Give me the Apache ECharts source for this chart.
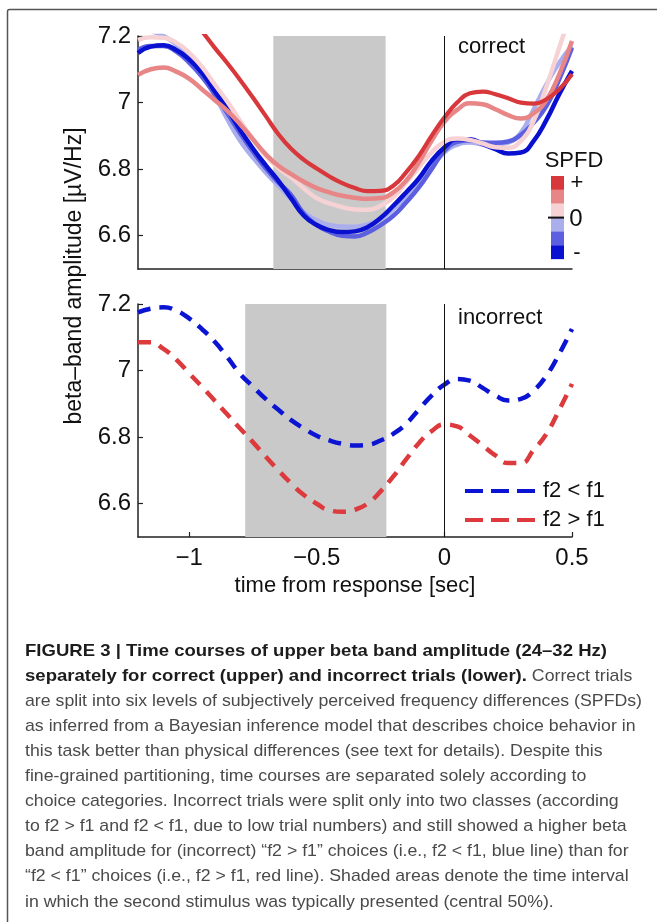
<!DOCTYPE html>
<html><head><meta charset="utf-8">
<script src="https://cdn.jsdelivr.net/npm/echarts@6.0.0/dist/echarts.min.js"></script>
<style>html,body{margin:0;padding:0;background:#fff}#c{width:657px;height:922px}</style>
</head><body><div id="c"></div><script>
// ---- data ----
const times = [-1.20,-1.15,-1.10,-1.05,-1.00,-0.95,-0.90,-0.85,-0.80,-0.75,-0.70,-0.65,-0.60,-0.55,-0.50,-0.45,-0.40,-0.35,-0.30,-0.25,-0.20,-0.15,-0.10,-0.05,0.00,0.05,0.10,0.15,0.20,0.25,0.30,0.35,0.40,0.45,0.50];
const spfdPlus3 = [null,null,null,null,7.265,7.215,7.165,7.118,7.068,7.015,6.96,6.905,6.861,6.828,6.802,6.778,6.758,6.743,6.734,6.735,6.75,6.79,6.84,6.9,6.955,7.0,7.028,7.033,7.025,7.013,7.0,6.997,7.01,7.04,7.085];
const spfdPlus2 = [7.083,7.100,7.105,7.093,7.072,7.040,7.008,6.975,6.935,6.89,6.845,6.81,6.785,6.762,6.743,6.730,6.720,6.714,6.711,6.713,6.73,6.765,6.82,6.885,6.942,6.978,6.998,6.995,6.98,6.962,6.952,6.968,7.008,7.085,7.185];
const spfdPlus1 = [7.188,7.196,7.195,7.18,7.15,7.108,7.055,7.003,6.945,6.89,6.84,6.803,6.775,6.742,6.713,6.697,6.686,6.679,6.678,6.69,6.715,6.76,6.805,6.85,6.882,6.892,6.888,6.877,6.866,6.864,6.885,6.945,7.048,7.165,7.28];
const spfdMinus1 = [7.225,7.215,7.2,7.175,7.14,7.09,7.025,6.95,6.885,6.835,6.79,6.75,6.71,6.67,6.647,6.632,6.628,6.627,6.634,6.65,6.68,6.715,6.755,6.805,6.85,6.873,6.880,6.875,6.874,6.88,6.91,6.98,7.055,7.12,7.17];
const spfdMinus2 = [7.158,7.17,7.17,7.153,7.12,7.078,7.025,6.968,6.908,6.853,6.803,6.76,6.722,6.665,6.632,6.612,6.6,6.598,6.61,6.632,6.66,6.7,6.745,6.8,6.855,6.882,6.887,6.880,6.879,6.883,6.903,6.94,6.99,7.07,7.165];
const spfdMinus3 = [7.149,7.168,7.172,7.158,7.13,7.09,7.035,6.98,6.918,6.862,6.812,6.765,6.712,6.66,6.632,6.617,6.611,6.613,6.626,6.653,6.69,6.73,6.772,6.825,6.865,6.89,6.89,6.875,6.86,6.847,6.85,6.885,6.948,7.025,7.095];
const incorrectF2LessF1 = [7.175,7.186,7.19,7.18,7.157,7.125,7.087,7.04,6.99,6.952,6.915,6.882,6.851,6.826,6.804,6.79,6.78,6.775,6.777,6.79,6.81,6.84,6.883,6.925,6.958,6.975,6.97,6.948,6.925,6.91,6.915,6.94,6.985,7.05,7.125];
const incorrectF2GreaterF1 = [7.085,7.085,7.065,7.033,6.992,6.952,6.91,6.868,6.826,6.785,6.742,6.7,6.661,6.626,6.6,6.58,6.576,6.582,6.601,6.637,6.682,6.733,6.782,6.818,6.838,6.832,6.805,6.775,6.745,6.722,6.722,6.762,6.81,6.882,6.96];
const xTicks = [-1, -0.5, 0, 0.5];
const yTicks = [6.6, 6.8, 7.0, 7.2];
const stimBandCorrect = [-0.67, -0.23];
const stimBandIncorrect = [-0.78, -0.227];
const seriesNames = ['f2 < f1', 'f2 > f1'];
const captionBold1 = 'FIGURE 3 | Time courses of upper beta band amplitude (24–32 Hz)';
const captionBold2 = 'separately for correct (upper) and incorrect trials (lower).';
const captionLines = [
  ' Correct trials',
  'are split into six levels of subjectively perceived frequency differences (SPFDs)',
  'as inferred from a Bayesian inference model that describes choice behavior in',
  'this task better than physical differences (see text for details). Despite this',
  'fine-grained partitioning, time courses are separated solely according to',
  'choice categories. Incorrect trials were split only into two classes (according',
  'to f2 > f1 and f2 < f1, due to low trial numbers) and still showed a higher beta',
  'band amplitude for (incorrect) “f2 > f1” choices (i.e., f2 < f1, blue line) than for',
  '“f2 < f1” choices (i.e., f2 > f1, red line). Shaded areas denote the time interval',
  'in which the second stimulus was typically presented (central 50%).'
];

// ---- helpers ----
const FF = '"Liberation Sans", Arial, Helvetica, sans-serif';
const pairs = arr => times.map((t, i) => [t, arr[i]]);
const fmtX = v => v < 0 ? '\u2212' + Math.abs(v) : String(v);
const fmtY = v => String(+(+v).toFixed(1));
const cvs = document.createElement('canvas').getContext('2d');
function mw(text, font) { cvs.font = font; return cvs.measureText(text).width; }

const C = { r3:'#d8383b', r2:'#e88586', r1:'#f6d2d4', b1:'#aaaeec', b2:'#5b5fe0', b3:'#0a10cf' };

function upperLine(name, arr, color, extra) {
  return Object.assign({
    name, type:'line', xAxisIndex:0, yAxisIndex:0, data: pairs(arr), smooth:true,
    symbol:'none', clip:true, lineStyle:{ color, width:4.5 }, itemStyle:{color}, z:3
  }, extra || {});
}

const capFontN = '17px ' + FF;
const capFontB = 'bold 17px ' + FF;
const sN = 617 / mw(captionLines[1], capFontN);
const sB = 582 / mw(captionBold1, capFontB);

const graphics = [
  { type:'rect', shape:{ x:7.5, y:9.5, width:720, height:1000, r:2 }, style:{ fill:'none', stroke:'#555', lineWidth:1.5 }, silent:true, z:-1 },
  { type:'text', x:75, y:276, rotation:Math.PI/2, style:{ text:'beta–band amplitude [µV/Hz]', font:'23px ' + FF, fill:'#111', textAlign:'center', textVerticalAlign:'middle' } },
  { type:'text', x:458, y:47, style:{ text:'correct', font:'22px ' + FF, fill:'#111', textAlign:'left', textVerticalAlign:'middle' } },
  { type:'text', x:458, y:318, style:{ text:'incorrect', font:'22px ' + FF, fill:'#111', textAlign:'left', textVerticalAlign:'middle' } },
  { type:'text', x:574, y:161, style:{ text:'SPFD', font:'22px ' + FF, fill:'#111', textAlign:'center', textVerticalAlign:'middle' } }
];
const barColors = [C.r3, C.r2, C.r1, C.b1, C.b2, C.b3];
barColors.forEach((col, i) => {
  graphics.push({ type:'rect', shape:{ x:551, y:176 + i * 13.85, width:13, height:13.9 }, style:{ fill:col } });
});
graphics.push({ type:'line', shape:{ x1:548, y1:217.6, x2:564, y2:217.6 }, style:{ stroke:'#111', lineWidth:2 } });
graphics.push({ type:'text', x:577, y:183, style:{ text:'+', font:'22px ' + FF, fill:'#111', textAlign:'center', textVerticalAlign:'middle' } });
graphics.push({ type:'text', x:576, y:219, style:{ text:'0', font:'24px ' + FF, fill:'#111', textAlign:'center', textVerticalAlign:'middle' } });
graphics.push({ type:'text', x:577, y:253, style:{ text:'-', font:'22px ' + FF, fill:'#111', textAlign:'center', textVerticalAlign:'middle' } });

// caption
graphics.push({ type:'text', x:25, y:651, scaleX:sB, style:{ text:captionBold1, font:capFontB, fill:'#1c1c1c', textAlign:'left', textVerticalAlign:'middle' } });
const bw2 = mw(captionBold2, capFontB) * sB;
graphics.push({ type:'text', x:25, y:676, scaleX:sB, style:{ text:captionBold2, font:capFontB, fill:'#1c1c1c', textAlign:'left', textVerticalAlign:'middle' } });
graphics.push({ type:'text', x:25 + bw2, y:676, scaleX:sN, style:{ text:captionLines[0], font:capFontN, fill:'#4a4a4a', textAlign:'left', textVerticalAlign:'middle' } });
for (let i = 1; i < captionLines.length; i++) {
  graphics.push({ type:'text', x:25, y:676 + 25.1 * i, scaleX:sN, style:{ text:captionLines[i], font:capFontN, fill:'#4a4a4a', textAlign:'left', textVerticalAlign:'middle' } });
}

const axisCommonY = {
  type:'value', min:6.5, max:7.2,
  axisLine:{ show:true, onZero:false, lineStyle:{ color:'#222', width:1.5 } },
  axisTick:{ show:true, inside:true, length:5, customValues:yTicks, lineStyle:{ color:'#222', width:1.2 } },
  axisLabel:{ customValues:yTicks, formatter:fmtY, fontSize:24, margin:7, color:'#111', fontFamily:FF },
  splitLine:{ show:false }
};

const markV = { symbol:'none', silent:true, label:{show:false}, lineStyle:{ color:'#111', width:1, type:'solid' }, data:[{ xAxis:0 }], animation:false };

const dashIcon = 'path://M0,0h18v4h-18z M26,0h18v4h-18z M52,0h18v4h-18z';

const option = {
  animation:false,
  backgroundColor:'#fff',
  textStyle:{ fontFamily:FF },
  grid:[
    { left:138, top:36, width:434, height:233 },
    { left:138, top:304, width:434, height:233 }
  ],
  xAxis:[
    { gridIndex:0, type:'value', min:-1.2, max:0.5,
      axisLine:{ show:true, onZero:false, lineStyle:{ color:'#222', width:1.5 } },
      axisTick:{ show:false }, axisLabel:{ show:false }, splitLine:{ show:false } },
    { gridIndex:1, type:'value', min:-1.2, max:0.5,
      axisLine:{ show:true, onZero:false, lineStyle:{ color:'#222', width:1.5 } },
      axisTick:{ show:true, inside:true, length:5, customValues:xTicks, lineStyle:{ color:'#222', width:1.2 } },
      axisLabel:{ customValues:xTicks, formatter:fmtX, fontSize:24, margin:9, color:'#111', fontFamily:FF },
      splitLine:{ show:false },
      name:'time from response [sec]', nameLocation:'middle', nameGap:38,
      nameTextStyle:{ fontSize:22, color:'#111', fontFamily:FF } }
  ],
  yAxis:[
    Object.assign({ gridIndex:0 }, axisCommonY),
    Object.assign({ gridIndex:1 }, axisCommonY)
  ],
  legend:{
    data:[{ name:seriesNames[0], icon:dashIcon }, { name:seriesNames[1], icon:dashIcon }],
    orient:'vertical', left:465, top:480, padding:0,
    itemWidth:70, itemHeight:4.5, itemGap:7,
    textStyle:{ fontSize:22, color:'#111', fontFamily:FF, lineHeight:22, padding:[0,0,0,3] }
  },
  series:[
    upperLine('SPFD -1', spfdMinus1, C.b1, {
      markArea:{ silent:true, itemStyle:{ color:'#c9c9c9' }, data:[[{ xAxis:stimBandCorrect[0] }, { xAxis:stimBandCorrect[1] }]] },
      markLine: markV
    }),
    upperLine('SPFD -2', spfdMinus2, C.b2),
    upperLine('SPFD -3', spfdMinus3, C.b3),
    upperLine('SPFD +1', spfdPlus1, C.r1),
    upperLine('SPFD +2', spfdPlus2, C.r2),
    upperLine('SPFD +3', spfdPlus3, C.r3, { lineStyle:{ color:C.r3, width:4.2 } }),
    { name:seriesNames[0], type:'line', xAxisIndex:1, yAxisIndex:1, data:pairs(incorrectF2LessF1), smooth:true, symbol:'none',
      lineStyle:{ color:'#0b14d2', width:4.5, type:[13, 9] }, itemStyle:{ color:'#0b14d2' }, z:3,
      markArea:{ silent:true, itemStyle:{ color:'#c9c9c9' }, data:[[{ xAxis:stimBandIncorrect[0] }, { xAxis:stimBandIncorrect[1] }]] },
      markLine: markV },
    { name:seriesNames[1], type:'line', xAxisIndex:1, yAxisIndex:1, data:pairs(incorrectF2GreaterF1), smooth:true, symbol:'none',
      lineStyle:{ color:'#dc3a3c', width:4.5, type:[13, 9] }, itemStyle:{ color:'#dc3a3c' }, z:3 }
  ],
  graphic: graphics
};

const chart = echarts.init(document.getElementById('c'), null, { renderer:'canvas' });
chart.setOption(option);
</script></body></html>
